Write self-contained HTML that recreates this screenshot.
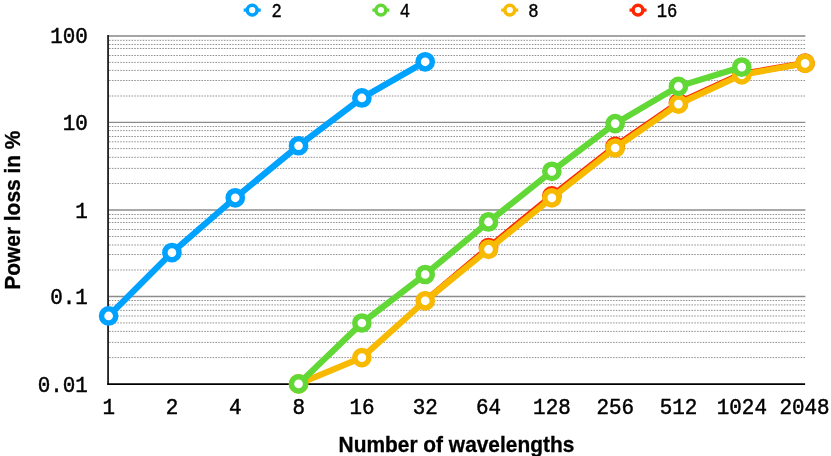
<!DOCTYPE html>
<html><head><meta charset="utf-8"><title>chart</title>
<style>html,body{margin:0;padding:0;background:#fff}svg{display:block}text{font-family:"Liberation Mono",monospace;fill:#000}.b{font-family:"Liberation Sans",sans-serif;font-weight:bold}</style></head><body>
<svg width="831" height="456" viewBox="0 0 831 456" style="will-change:transform">
<rect width="831" height="456" fill="#fff"/>
<g stroke="#858585" stroke-width="0.9" stroke-dasharray="1.55 1.25" fill="none">
<path d="M109.07 357.60H805.40"/>
<path d="M109.07 342.40H805.40"/>
<path d="M109.07 331.40H805.40"/>
<path d="M109.07 322.90H805.40"/>
<path d="M109.07 316.00H805.40"/>
<path d="M109.07 310.40H805.40"/>
<path d="M109.07 304.90H805.40"/>
<path d="M109.07 300.50H805.40"/>
<path d="M109.07 270.00H805.40"/>
<path d="M109.07 254.50H805.40"/>
<path d="M109.07 245.00H805.40"/>
<path d="M109.07 236.50H805.40"/>
<path d="M109.07 229.50H805.40"/>
<path d="M109.07 222.50H805.40"/>
<path d="M109.07 218.40H805.40"/>
<path d="M109.07 214.50H805.40"/>
<path d="M109.07 183.50H805.40"/>
<path d="M109.07 168.40H805.40"/>
<path d="M109.07 157.30H805.40"/>
<path d="M109.07 148.60H805.40"/>
<path d="M109.07 141.80H805.40"/>
<path d="M109.07 136.50H805.40"/>
<path d="M109.07 130.60H805.40"/>
<path d="M109.07 126.50H805.40"/>
<path d="M109.07 96.00H805.40"/>
<path d="M109.07 80.50H805.40"/>
<path d="M109.07 70.40H805.40"/>
<path d="M109.07 62.40H805.40"/>
<path d="M109.07 55.50H805.40"/>
<path d="M109.07 48.50H805.40"/>
<path d="M109.07 44.50H805.40"/>
<path d="M109.07 40.30H805.40"/>
</g>
<g stroke="#8c8c8c" stroke-width="1.4" fill="none">
<path d="M108.07 296.45H805.40"/>
<path d="M108.07 210.00H805.40"/>
<path d="M108.07 122.35H805.40"/>
</g>
<path d="M108.07 36.00H805.40" stroke="#a4a4a4" stroke-width="2" fill="none"/>
<path d="M108.07 35V384.85" stroke="#1e1e1e" stroke-width="1.8" fill="none"/>
<path d="M107.20 384.05H805.1" stroke="#000" stroke-width="1.7" fill="none"/>
<path d="M425.19 300.78 L488.51 247.50 L551.83 195.90 L615.14 146.40 L678.46 102.70 L741.77 73.90 L805.08 63.10" stroke="#FF2600" stroke-width="6.2" fill="none" stroke-linejoin="round" stroke-linecap="round"/>
<circle cx="425.19" cy="300.78" r="7.1" fill="#fff" stroke="#FF2600" stroke-width="4.3"/>
<circle cx="488.51" cy="247.50" r="7.1" fill="#fff" stroke="#FF2600" stroke-width="5.5"/>
<circle cx="551.83" cy="195.90" r="7.1" fill="#fff" stroke="#FF2600" stroke-width="5.5"/>
<circle cx="615.14" cy="146.40" r="7.1" fill="#fff" stroke="#FF2600" stroke-width="5.5"/>
<circle cx="678.46" cy="102.70" r="7.1" fill="#fff" stroke="#FF2600" stroke-width="5.5"/>
<circle cx="741.77" cy="73.90" r="7.1" fill="#fff" stroke="#FF2600" stroke-width="5.5"/>
<circle cx="805.08" cy="63.10" r="7.1" fill="#fff" stroke="#FF2600" stroke-width="5.5"/>
<path d="M298.56 383.90 L361.88 357.60 L425.19 300.78 L488.51 249.30 L551.83 197.80 L615.14 148.00 L678.46 104.10 L741.77 74.80 L805.08 63.30" stroke="#F8BA00" stroke-width="6.2" fill="none" stroke-linejoin="round" stroke-linecap="round"/>
<circle cx="298.56" cy="383.90" r="7.1" fill="#fff" stroke="#F8BA00" stroke-width="5.5"/>
<circle cx="361.88" cy="357.60" r="7.1" fill="#fff" stroke="#F8BA00" stroke-width="5.5"/>
<circle cx="425.19" cy="300.78" r="7.1" fill="#fff" stroke="#F8BA00" stroke-width="5.5"/>
<circle cx="488.51" cy="249.30" r="7.1" fill="#fff" stroke="#F8BA00" stroke-width="5.5"/>
<circle cx="551.83" cy="197.80" r="7.1" fill="#fff" stroke="#F8BA00" stroke-width="5.5"/>
<circle cx="615.14" cy="148.00" r="7.1" fill="#fff" stroke="#F8BA00" stroke-width="5.5"/>
<circle cx="678.46" cy="104.10" r="7.1" fill="#fff" stroke="#F8BA00" stroke-width="5.5"/>
<circle cx="741.77" cy="74.80" r="7.1" fill="#fff" stroke="#F8BA00" stroke-width="5.5"/>
<circle cx="805.08" cy="63.30" r="7.1" fill="#fff" stroke="#F8BA00" stroke-width="5.5"/>
<path d="M298.56 383.90 L361.88 323.00 L425.19 274.48 L488.51 221.96 L551.83 171.30 L615.14 123.60 L678.46 86.40 L741.77 67.05" stroke="#61D836" stroke-width="6.2" fill="none" stroke-linejoin="round" stroke-linecap="round"/>
<circle cx="298.56" cy="383.90" r="7.1" fill="#fff" stroke="#61D836" stroke-width="5.5"/>
<circle cx="361.88" cy="323.00" r="7.1" fill="#fff" stroke="#61D836" stroke-width="5.5"/>
<circle cx="425.19" cy="274.48" r="7.1" fill="#fff" stroke="#61D836" stroke-width="5.5"/>
<circle cx="488.51" cy="221.96" r="7.1" fill="#fff" stroke="#61D836" stroke-width="5.5"/>
<circle cx="551.83" cy="171.30" r="7.1" fill="#fff" stroke="#61D836" stroke-width="5.5"/>
<circle cx="615.14" cy="123.60" r="7.1" fill="#fff" stroke="#61D836" stroke-width="5.5"/>
<circle cx="678.46" cy="86.40" r="7.1" fill="#fff" stroke="#61D836" stroke-width="5.5"/>
<circle cx="741.77" cy="67.05" r="7.1" fill="#fff" stroke="#61D836" stroke-width="5.5"/>
<path d="M108.62 315.96 L171.94 252.57 L235.25 197.78 L298.56 145.75 L361.88 97.96 L425.19 61.78" stroke="#00A2FF" stroke-width="6.2" fill="none" stroke-linejoin="round" stroke-linecap="round"/>
<circle cx="108.62" cy="315.96" r="7.1" fill="#fff" stroke="#00A2FF" stroke-width="5.5"/>
<circle cx="171.94" cy="252.57" r="7.1" fill="#fff" stroke="#00A2FF" stroke-width="5.5"/>
<circle cx="235.25" cy="197.78" r="7.1" fill="#fff" stroke="#00A2FF" stroke-width="5.5"/>
<circle cx="298.56" cy="145.75" r="7.1" fill="#fff" stroke="#00A2FF" stroke-width="5.5"/>
<circle cx="361.88" cy="97.96" r="7.1" fill="#fff" stroke="#00A2FF" stroke-width="5.5"/>
<circle cx="425.19" cy="61.78" r="7.1" fill="#fff" stroke="#00A2FF" stroke-width="5.5"/>
<path d="M243.70 10.1H260.70" stroke="#00A2FF" stroke-width="3.2" fill="none"/>
<circle cx="252.2" cy="10.1" r="4.9" fill="#fff" stroke="#00A2FF" stroke-width="3.5"/>
<text transform="translate(271.4 16.8) scale(1 1.21)" font-size="17.2" stroke="#000" stroke-width="0.35">2</text>
<path d="M372.40 10.1H389.40" stroke="#61D836" stroke-width="3.2" fill="none"/>
<circle cx="380.9" cy="10.1" r="4.9" fill="#fff" stroke="#61D836" stroke-width="3.5"/>
<text transform="translate(399.7 16.8) scale(1 1.21)" font-size="17.2" stroke="#000" stroke-width="0.35">4</text>
<path d="M501.25 10.1H518.25" stroke="#F8BA00" stroke-width="3.2" fill="none"/>
<circle cx="509.75" cy="10.1" r="4.9" fill="#fff" stroke="#F8BA00" stroke-width="3.5"/>
<text transform="translate(528.2 16.8) scale(1 1.21)" font-size="17.2" stroke="#000" stroke-width="0.35">8</text>
<path d="M629.50 10.1H646.50" stroke="#FF2600" stroke-width="3.2" fill="none"/>
<circle cx="638.0" cy="10.1" r="4.9" fill="#fff" stroke="#FF2600" stroke-width="3.5"/>
<text transform="translate(656.8 16.8) scale(1 1.21)" font-size="17.2" stroke="#000" stroke-width="0.35">16</text>
<text transform="translate(87.9 391.60) scale(1 1.09)" font-size="20.9" text-anchor="end" stroke="#000" stroke-width="0.45">0.01</text>
<text transform="translate(87.9 304.00) scale(1 1.09)" font-size="20.9" text-anchor="end" stroke="#000" stroke-width="0.45">0.1</text>
<text transform="translate(87.9 217.50) scale(1 1.09)" font-size="20.9" text-anchor="end" stroke="#000" stroke-width="0.45">1</text>
<text transform="translate(87.9 130.25) scale(1 1.09)" font-size="20.9" text-anchor="end" stroke="#000" stroke-width="0.45">10</text>
<text transform="translate(87.9 43.35) scale(1 1.09)" font-size="20.9" text-anchor="end" stroke="#000" stroke-width="0.45">100</text>
<text transform="translate(108.72 414.1) scale(1 1.09)" font-size="20.9" text-anchor="middle" stroke="#000" stroke-width="0.45">1</text>
<text transform="translate(172.03 414.1) scale(1 1.09)" font-size="20.9" text-anchor="middle" stroke="#000" stroke-width="0.45">2</text>
<text transform="translate(235.35 414.1) scale(1 1.09)" font-size="20.9" text-anchor="middle" stroke="#000" stroke-width="0.45">4</text>
<text transform="translate(298.67 414.1) scale(1 1.09)" font-size="20.9" text-anchor="middle" stroke="#000" stroke-width="0.45">8</text>
<text transform="translate(361.98 414.1) scale(1 1.09)" font-size="20.9" text-anchor="middle" stroke="#000" stroke-width="0.45">16</text>
<text transform="translate(425.30 414.1) scale(1 1.09)" font-size="20.9" text-anchor="middle" stroke="#000" stroke-width="0.45">32</text>
<text transform="translate(488.61 414.1) scale(1 1.09)" font-size="20.9" text-anchor="middle" stroke="#000" stroke-width="0.45">64</text>
<text transform="translate(551.93 414.1) scale(1 1.09)" font-size="20.9" text-anchor="middle" stroke="#000" stroke-width="0.45">128</text>
<text transform="translate(615.24 414.1) scale(1 1.09)" font-size="20.9" text-anchor="middle" stroke="#000" stroke-width="0.45">256</text>
<text transform="translate(678.56 414.1) scale(1 1.09)" font-size="20.9" text-anchor="middle" stroke="#000" stroke-width="0.45">512</text>
<text transform="translate(741.87 414.1) scale(1 1.09)" font-size="20.9" text-anchor="middle" stroke="#000" stroke-width="0.45">1024</text>
<text transform="translate(804.58 414.1) scale(1 1.09)" font-size="20.9" text-anchor="middle" stroke="#000" stroke-width="0.45">2048</text>
<text class="b" x="338.6" y="451.7" font-size="21.3" textLength="235.7" lengthAdjust="spacingAndGlyphs" stroke="#000" stroke-width="0.3">Number of wavelengths</text>
<text class="b" transform="translate(19.9 289.7) rotate(-90)" font-size="21.3" textLength="159.1" lengthAdjust="spacingAndGlyphs" stroke="#000" stroke-width="0.3">Power loss in %</text>
</svg></body></html>
